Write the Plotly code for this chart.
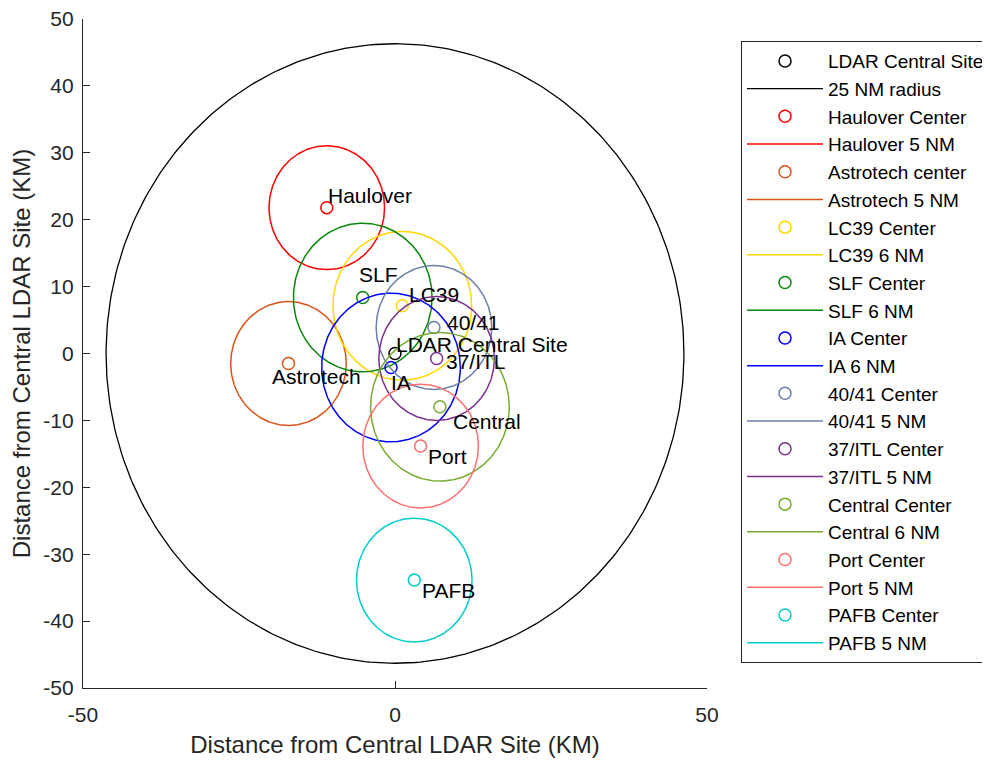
import numpy as np
import plotly.graph_objects as go

NM_KM = 1.852

# Site data (km from central LDAR site)
site_names = ["Haulover", "Astrotech", "LC39", "SLF", "IA", "40/41", "37/ITL", "Central", "Port", "PAFB"]
site_x = [-10.93, -17.07, 1.17, -5.17, -0.64, 6.24, 6.67, 7.2, 4.1, 3.09]
site_y = [21.8, -1.5, 7.13, 8.37, -2.09, 3.89, -0.75, -7.97, -13.84, -33.87]
site_radius_nm = [5, 5, 6, 6, 6, 5, 5, 6, 5, 5]
center_labels = ["Haulover Center", "Astrotech center", "LC39 Center", "SLF Center", "IA Center",
                 "40/41 Center", "37/ITL Center", "Central Center", "Port Center", "PAFB Center"]
circle_labels = ["Haulover 5 NM", "Astrotech 5 NM", "LC39 6 NM", "SLF 6 NM", "IA 6 NM",
                 "40/41 5 NM", "37/ITL 5 NM", "Central 6 NM", "Port 5 NM", "PAFB 5 NM"]
colors = ["#FF0000", "#D95319", "#FFD700", "#0A870A", "#0000FF",
          "#6B7FAA", "#7E2F8E", "#77AC30", "#FF6F6F", "#00CCCC"]

ldar_x, ldar_y = [0.0], [0.0]
ldar_radius_nm = 25

x_ticks = [-50, 0, 50]
x_ticktext = ["-50", "0", "50"]
y_ticks = [-50, -40, -30, -20, -10, 0, 10, 20, 30, 40, 50]
y_ticktext = ["-50", "-40", "-30", "-20", "-10", "0", "10", "20", "30", "40", "50"]

# Text label anchor positions (km)
label_x = [-10.93, -19.9, 2.08, -5.97, -0.8, 8.11, 8.0, 9.07, 5.07, 4.16]
label_y = [23.57, -3.44, 8.77, 11.76, -4.33, 4.63, -1.2, -10.16, -15.4, -35.37]
ldar_label_x, ldar_label_y = 0.0, 1.4

FONT = "Liberation Sans, Arial, Helvetica, sans-serif"
AX = "#262626"

theta = np.linspace(0, 2 * np.pi, 361)

def circle(cx, cy, r_km):
    return cx + r_km * np.cos(theta), cy + r_km * np.sin(theta)

fig = go.Figure()
gi = 0
def add(trace):
    global gi
    trace.legendgroup = "g%d" % gi
    gi += 1
    fig.add_trace(trace)

add(go.Scatter(x=ldar_x, y=ldar_y, mode="markers", name="LDAR Central Site",
               marker=dict(symbol="circle-open", size=12, color="black", line=dict(width=1.5))))
bx, by = circle(ldar_x[0], ldar_y[0], ldar_radius_nm * NM_KM)
add(go.Scatter(x=bx, y=by, mode="lines", name="25 NM radius",
               line=dict(color="black", width=1.3)))

for i in range(len(site_names)):
    add(go.Scatter(x=[site_x[i]], y=[site_y[i]], mode="markers", name=center_labels[i],
                   marker=dict(symbol="circle-open", size=12, color=colors[i], line=dict(width=1.5))))
    cx, cy = circle(site_x[i], site_y[i], site_radius_nm[i] * NM_KM)
    add(go.Scatter(x=cx, y=cy, mode="lines", name=circle_labels[i],
                   line=dict(color=colors[i], width=1.5)))

annotations = []
for i in range(len(site_names)):
    annotations.append(dict(x=label_x[i], y=label_y[i], text=site_names[i], showarrow=False,
                            xanchor="left", yanchor="middle", xref="x", yref="y",
                            font=dict(family=FONT, size=21, color="black"), borderpad=0))
annotations.append(dict(x=ldar_label_x, y=ldar_label_y, text="LDAR Central Site", showarrow=False,
                        xanchor="left", yanchor="middle", xref="x", yref="y",
                        font=dict(family=FONT, size=21, color="black"), borderpad=0))

fig.update_layout(
    width=990, height=760, autosize=False,
    margin=dict(l=75, r=291, t=11, b=80, autoexpand=False),
    paper_bgcolor="white", plot_bgcolor="white",
    font=dict(family=FONT, color=AX),
    annotations=annotations,
    showlegend=True,
    legend=dict(x=1.0545, y=0.967, xanchor="left", yanchor="top",
                bordercolor=AX, borderwidth=1, bgcolor="white",
                font=dict(family=FONT, size=19, color="black"),
                tracegroupgap=0, itemwidth=76),
)
fig.update_xaxes(range=[-50, 50], tickvals=x_ticks, ticktext=x_ticktext, ticks="inside", ticklen=7,
                 showline=True, linecolor=AX, linewidth=1.3, tickcolor=AX, tickwidth=1.3,
                 showgrid=False, zeroline=False, tickfont=dict(size=21, color=AX), automargin=False,
                 ticklabelstandoff=8, ticklabeloverflow="allow",
                 title=dict(text="Distance from Central LDAR Site (KM)", font=dict(size=24, color=AX), standoff=10))
fig.update_yaxes(range=[-50, 50], tickvals=y_ticks, ticktext=y_ticktext, ticks="inside", ticklen=7,
                 showline=True, linecolor=AX, linewidth=1.3, tickcolor=AX, tickwidth=1.3,
                 showgrid=False, zeroline=False, tickfont=dict(size=21, color=AX), automargin=False,
                 ticklabelstandoff=4, ticklabeloverflow="allow",
                 title=dict(text="Distance from Central LDAR Site (KM)", font=dict(size=24, color=AX), standoff=10))

fig.write_html("out.html")
